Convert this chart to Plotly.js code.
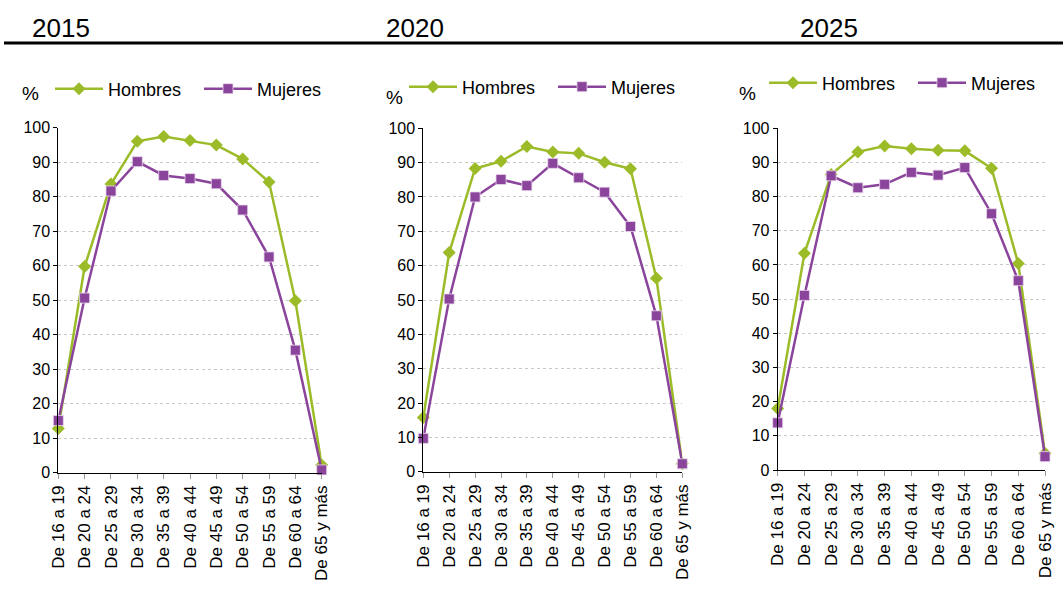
<!DOCTYPE html>
<html>
<head>
<meta charset="utf-8">
<script src="https://cdn.plot.ly/plotly-3.0.1.min.js"></script>
<style>html,body{margin:0;padding:0;background:#fff;}#chart{width:1063px;height:589px;}</style>
</head>
<body>
<div id="chart"></div>
<script>
const categories = ["De 16 a 19","De 20 a 24","De 25 a 29","De 30 a 34","De 35 a 39","De 40 a 44","De 45 a 49","De 50 a 54","De 55 a 59","De 60 a 64","De 65 y más"];
const years = ["2015","2020","2025"];
const hombres2015 = [12.8, 59.7, 83.6, 96.0, 97.4, 96.2, 94.9, 90.9, 84.2, 49.8, 2.2];
const mujeres2015 = [15.1, 50.6, 81.6, 90.1, 86.1, 85.2, 83.7, 76.1, 62.5, 35.5, 0.8];
const hombres2020 = [15.8, 63.8, 88.3, 90.4, 94.7, 93.1, 92.7, 90.1, 88.2, 56.3, 2.3];
const mujeres2020 = [9.7, 50.3, 80.0, 85.1, 83.3, 89.8, 85.6, 81.4, 71.4, 45.4, 2.3];
const hombres2025 = [18.0, 63.4, 86.5, 93.1, 94.8, 94.0, 93.6, 93.4, 88.3, 60.4, 4.9];
const mujeres2025 = [13.8, 51.1, 86.1, 82.6, 83.6, 87.1, 86.3, 88.5, 75.0, 55.4, 3.9];
const yTicks = [0,10,20,30,40,50,60,70,80,90,100];
const seriesNames = ["Hombres","Mujeres"];

const green = "#9BBB28";
const purple = "#8B449B";
const W = 1063, H = 589;
const font = "Liberation Sans, Arial, sans-serif";

const hData = [hombres2015, hombres2020, hombres2025];
const mData = [mujeres2015, mujeres2020, mujeres2025];

// panel geometry in pixels
const panels = [
  {x0: 58.3, x1: 321.7, y0: 472.7, y1: 127.5, legX: 50, legY: 89, pctX: 30, pctY: 93, titleX: 61},
  {x0: 423.3, x1: 682.3, y0: 471.7, y1: 128.3, legX: 404, legY: 87, pctX: 394, pctY: 97, titleX: 415},
  {x0: 777.7, x1: 1045, y0: 470, y1: 128.3, legX: 764, legY: 83, pctX: 747, pctY: 93, titleX: 829}
];

const traces = [];
const layout = {
  width: W, height: H,
  margin: {l:0, r:0, t:0, b:0},
  paper_bgcolor: "#fff", plot_bgcolor: "#fff",
  font: {family: font, color: "#000", size: 16},
  showlegend: true,
  annotations: [],
  shapes: [{type: "line", xref: "paper", yref: "paper", x0: 4/W, x1: 1, y0: 1-43/H, y1: 1-43/H, line: {color: "#000", width: 3}}]
};

panels.forEach((p, i) => {
  const n = i === 0 ? "" : String(i+1);
  const legName = "legend" + n;
  traces.push({
    x: categories, y: hData[i], xaxis: "x"+n, yaxis: "y"+n, type: "scatter", mode: "lines+markers",
    name: seriesNames[0], legend: legName, cliponaxis: false,
    line: {color: green, width: 2.5},
    marker: {symbol: "diamond", size: 10, color: green}
  });
  traces.push({
    x: categories, y: mData[i], xaxis: "x"+n, yaxis: "y"+n, type: "scatter", mode: "lines+markers",
    name: seriesNames[1], legend: legName, cliponaxis: false,
    line: {color: purple, width: 2.5},
    marker: {symbol: "square", size: 10, color: purple, line: {color: "#e8d8ec", width: 0.8}}
  });
  layout["xaxis"+n] = {
    domain: [p.x0/W, p.x1/W], anchor: "y"+n, type: "category", range: [0, 10],
    showgrid: false, zeroline: false, showline: true, linecolor: "#000", linewidth: 1,
    ticks: "outside", ticklen: 5, tickcolor: "#999", tickangle: -90,
    tickfont: {family: font, size: 17, color: "#000"}, automargin: false, fixedrange: true
  };
  layout["yaxis"+n] = {
    domain: [1 - p.y0/H, 1 - p.y1/H], anchor: "x"+n, range: [0, 100],
    tickvals: yTicks, ticktext: yTicks.map(String),
    showgrid: true, gridcolor: "#c8c8c8", griddash: "dot", gridwidth: 1,
    zeroline: false, showline: true, linecolor: "#000", linewidth: 1,
    ticks: "outside", ticklen: 4, tickcolor: "#000",
    tickfont: {family: font, size: 16, color: "#000"}, automargin: false, fixedrange: true
  };
  layout[legName] = {
    x: p.legX/W, xanchor: "left", y: 1 - p.legY/H, yanchor: "middle",
    orientation: "h", bgcolor: "rgba(0,0,0,0)", borderwidth: 0,
    itemwidth: 48, entrywidth: 86, entrywidthmode: "pixels",
    font: {family: font, size: 18, color: "#000"}
  };
  layout.annotations.push({
    xref: "paper", yref: "paper", x: p.pctX/W, y: 1 - p.pctY/H, xanchor: "center", yanchor: "middle",
    text: "%", showarrow: false, font: {family: font, size: 19, color: "#000"}
  });
  layout.annotations.push({
    xref: "paper", yref: "paper", x: p.titleX/W, y: 1 - 28/H, xanchor: "center", yanchor: "middle",
    text: years[i], showarrow: false, font: {family: font, size: 26, color: "#000"}
  });
});

Plotly.newPlot("chart", traces, layout, {displayModeBar: false, staticPlot: true});
</script>
</body>
</html>
